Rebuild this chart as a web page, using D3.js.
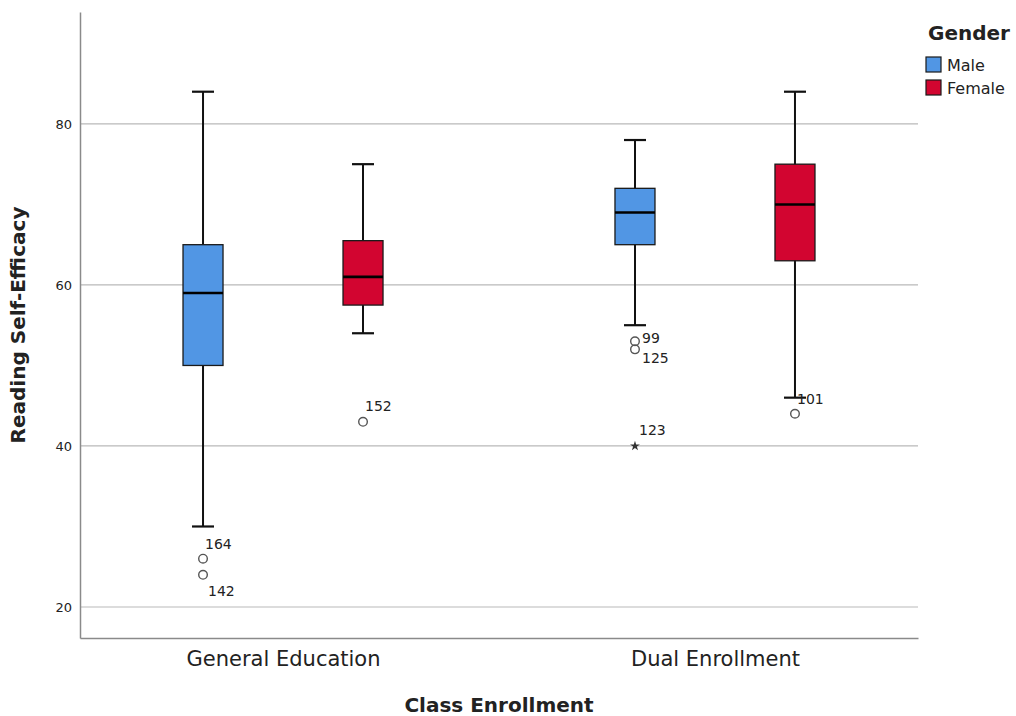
<!DOCTYPE html>
<html>
<head>
<meta charset="utf-8">
<script src="https://cdn.jsdelivr.net/npm/d3@7"></script>
<style>
  body { margin: 0; background: #fff; }
  text { font-family: "DejaVu Sans", sans-serif; }
</style>
</head>
<body>
<figure id="chart" style="margin:0"></figure>
<script>
// data
var categories = ["General Education", "Dual Enrollment"];
var genders = ["Male", "Female"];
var yTicks = [20, 40, 60, 80];

// [whiskerLow, q1, median, q3, whiskerHigh] per category, per gender
var maleStats = [
    [30, 50, 59, 65, 84],
    [55, 65, 69, 72, 78]
];
var femaleStats = [
    [54, 57.5, 61, 65.5, 75],
    [46, 63, 70, 75, 84]
];

// outliers: category index, gender, value, case id, kind
var outliers = [
    { cat: 0, gender: "Male", value: 26, id: "164", kind: "o" },
    { cat: 0, gender: "Male", value: 24, id: "142", kind: "o" },
    { cat: 0, gender: "Female", value: 43, id: "152", kind: "o" },
    { cat: 1, gender: "Male", value: 53, id: "99", kind: "o" },
    { cat: 1, gender: "Male", value: 52, id: "125", kind: "o" },
    { cat: 1, gender: "Male", value: 40, id: "123", kind: "*" },
    { cat: 1, gender: "Female", value: 44, id: "101", kind: "o" }
];

// label offsets from the point (style only)
var labelOffset = {
    "164": [2, -15], "142": [5, 16], "152": [2, -16], "99": [7, -3],
    "125": [7, 9], "123": [4, -16], "101": [2, -15]
};

var colors = { Male: "#5196e4", Female: "#d20530" };

let dimensions = {
    width: 1016,
    height: 716,
    margin: { top: 12, right: 98, bottom: 78, left: 80 }
};
dimensions.boundedWidth = dimensions.width - dimensions.margin.left - dimensions.margin.right;
dimensions.boundedHeight = dimensions.height - dimensions.margin.top - dimensions.margin.bottom;

var svgRoot = d3.select("figure#chart")
    .append("svg")
    .attr("width", dimensions.width)
    .attr("height", dimensions.height);

var svg = svgRoot.append("g")
    .attr("transform", `translate(${dimensions.margin.left}, ${dimensions.margin.top})`);

var yScale = d3.scaleLinear()
    .domain([16.15, 93.9])
    .range([dimensions.boundedHeight, 0]);

var xScale = d3.scalePoint()
    .domain(categories)
    .range([0, dimensions.boundedWidth])
    .padding(0.47);

var xSub = d3.scalePoint()
    .domain(genders)
    .range([-80, 80]);

var boxWidth = 40;
var capWidth = 22;

// gridlines
svg.selectAll("line.grid")
    .data(yTicks)
    .enter()
    .append("line")
    .attr("class", "grid")
    .attr("x1", 0)
    .attr("x2", dimensions.boundedWidth)
    .attr("y1", d => yScale(d))
    .attr("y2", d => yScale(d))
    .attr("stroke", "#b9b9b9")
    .attr("stroke-width", 1.2);

// y axis
var yAxis = svg.append("g")
    .call(d3.axisLeft(yScale).tickValues(yTicks).tickSize(0).tickPadding(8));
yAxis.select(".domain").attr("stroke", "#8a8a8a").attr("stroke-width", 1.5);
yAxis.selectAll("text")
    .attr("font-size", 13)
    .attr("fill", "#222")
    .style("font-family", "DejaVu Sans");

// x axis
var xAxis = svg.append("g")
    .attr("transform", `translate(0, ${dimensions.boundedHeight})`)
    .call(d3.axisBottom(xScale).tickSize(0).tickPadding(13));
xAxis.select(".domain").attr("stroke", "#8a8a8a").attr("stroke-width", 1.5);
xAxis.selectAll("text")
    .attr("font-size", 21)
    .attr("fill", "#222")
    .style("font-family", "DejaVu Sans");

// boxes
var boxData = [];
categories.forEach(function(c, i) {
    boxData.push({ cat: c, gender: "Male", s: maleStats[i] });
    boxData.push({ cat: c, gender: "Female", s: femaleStats[i] });
});

var boxes = svg.selectAll("g.box")
    .data(boxData)
    .enter()
    .append("g")
    .attr("class", "box")
    .attr("transform", d => `translate(${xScale(d.cat) + xSub(d.gender)}, 0)`);

// whisker stem
boxes.append("line")
    .attr("x1", 0).attr("x2", 0)
    .attr("y1", d => yScale(d.s[0]))
    .attr("y2", d => yScale(d.s[4]))
    .attr("stroke", "#111")
    .attr("stroke-width", 2);

// caps
[0, 4].forEach(function(k) {
    boxes.append("line")
        .attr("x1", -capWidth / 2).attr("x2", capWidth / 2)
        .attr("y1", d => yScale(d.s[k]))
        .attr("y2", d => yScale(d.s[k]))
        .attr("stroke", "#111")
        .attr("stroke-width", 2.2);
});

boxes.append("rect")
    .attr("x", -boxWidth / 2)
    .attr("width", boxWidth)
    .attr("y", d => yScale(d.s[3]))
    .attr("height", d => yScale(d.s[1]) - yScale(d.s[3]))
    .attr("fill", d => colors[d.gender])
    .attr("stroke", "#1a1a1a")
    .attr("stroke-width", 1.3);

boxes.append("line")
    .attr("x1", -boxWidth / 2).attr("x2", boxWidth / 2)
    .attr("y1", d => yScale(d.s[2]))
    .attr("y2", d => yScale(d.s[2]))
    .attr("stroke", "#000")
    .attr("stroke-width", 2.6);

// outliers
var pts = svg.selectAll("g.outlier")
    .data(outliers)
    .enter()
    .append("g")
    .attr("class", "outlier")
    .attr("transform", d => `translate(${xScale(categories[d.cat]) + xSub(d.gender)}, ${yScale(d.value)})`);

pts.filter(d => d.kind === "o")
    .append("circle")
    .attr("r", 4.3)
    .attr("fill", "none")
    .attr("stroke", "#555")
    .attr("stroke-width", 1.4);

pts.filter(d => d.kind === "*")
    .append("path")
    .attr("d", d3.symbol().type(d3.symbolStar).size(30))
    .attr("fill", "#333");

pts.append("text")
    .attr("x", d => labelOffset[d.id][0])
    .attr("y", d => labelOffset[d.id][1])
    .attr("dy", "0.35em")
    .attr("font-size", 14)
    .attr("fill", "#222")
    .text(d => d.id);

// axis titles
svgRoot.append("text")
    .attr("transform", `translate(25, ${dimensions.margin.top + dimensions.boundedHeight / 2}) rotate(-90)`)
    .attr("text-anchor", "middle")
    .attr("font-size", 20)
    .attr("font-weight", "bold")
    .attr("fill", "#222")
    .text("Reading Self-Efficacy");

svgRoot.append("text")
    .attr("x", dimensions.margin.left + dimensions.boundedWidth / 2)
    .attr("y", 712)
    .attr("text-anchor", "middle")
    .attr("font-size", 20)
    .attr("font-weight", "bold")
    .attr("fill", "#222")
    .text("Class Enrollment");

// legend
var legend = svgRoot.append("g").attr("transform", "translate(926, 0)");
legend.append("text")
    .attr("x", 2).attr("y", 40)
    .attr("font-size", 20)
    .attr("font-weight", "bold")
    .attr("fill", "#222")
    .text("Gender");

var items = legend.selectAll("g.item")
    .data(genders)
    .enter()
    .append("g")
    .attr("class", "item")
    .attr("transform", (d, i) => `translate(0, ${57 + i * 23})`);

items.append("rect")
    .attr("width", 15).attr("height", 15)
    .attr("fill", d => colors[d])
    .attr("stroke", "#1a1a1a")
    .attr("stroke-width", 1.2);

items.append("text")
    .attr("x", 21).attr("y", 8)
    .attr("dy", "0.35em")
    .attr("font-size", 16)
    .attr("fill", "#222")
    .text(d => d);
</script>
</body>
</html>
